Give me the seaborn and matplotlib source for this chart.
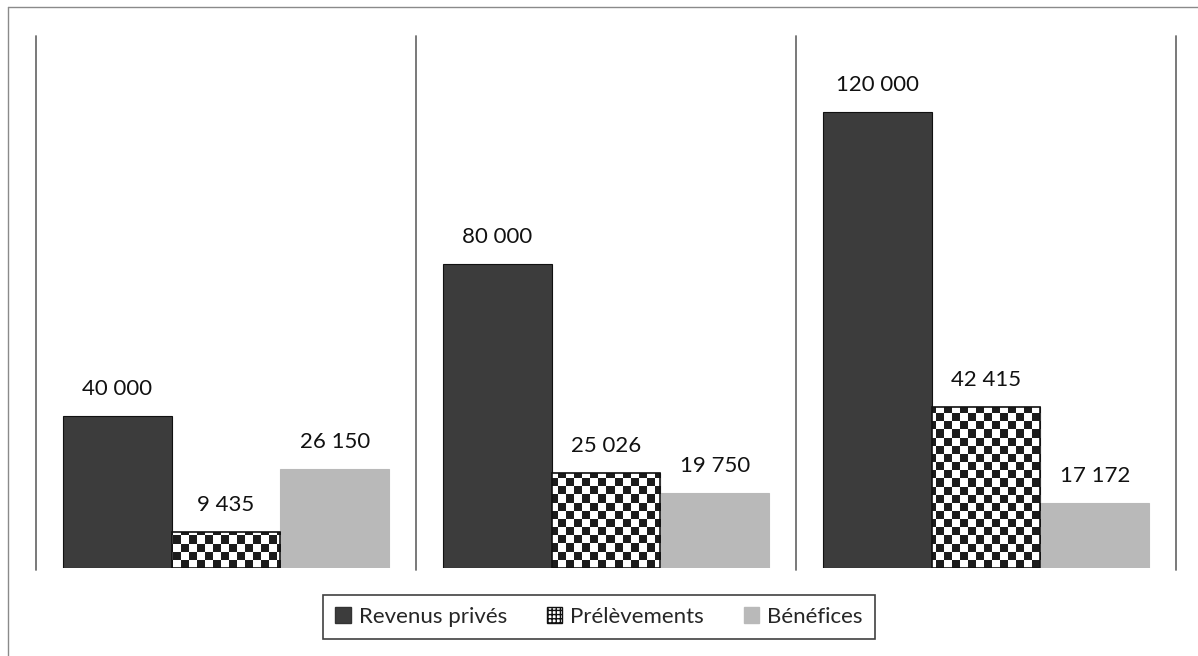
import numpy as np
import pandas as pd
import matplotlib
matplotlib.use("Agg")
import matplotlib.pyplot as plt
import matplotlib.patches as mpatches
from matplotlib.lines import Line2D
from matplotlib.colors import ListedColormap
import seaborn as sns

# ---- data ----
groups = ["Groupe 1", "Groupe 2", "Groupe 3"]
series = ["Revenus privés", "Prélèvements", "Bénéfices"]
revenus = [40000, 80000, 120000]
prelevements = [9435, 25026, 42415]
benefices = [26150, 19750, 17172]

df = pd.DataFrame({
    "groupe": groups * 3,
    "serie": [series[0]] * 3 + [series[1]] * 3 + [series[2]] * 3,
    "valeur": revenus + prelevements + benefices,
})

sns.set_theme(style="white")
plt.rcParams["font.family"] = ["Lato", "DejaVu Sans"]

fig = plt.figure(figsize=(11.98, 6.56), dpi=100)
ax = fig.add_axes([36 / 1198, 1 - 568 / 656, 1140 / 1198, 535 / 656])

colors = {"Revenus privés": "#3c3c3c", "Prélèvements": "#ffffff", "Bénéfices": "#b9b9b9"}
sns.barplot(data=df, x="groupe", y="valeur", hue="serie", hue_order=series,
            palette=colors, width=0.86, dodge=True, ax=ax, legend=False,
            edgecolor="#111111", linewidth=0.8, saturation=1)

ax.set_xlim(-0.5, 2.5)
ax.set_ylim(0, 140800)
for s in ax.spines.values():
    s.set_visible(False)
ax.set_xticks([])
ax.set_yticks([])
ax.set_xlabel("")
ax.set_ylabel("")

# light bars have no dark edge
for bar in ax.containers[2]:
    bar.set_edgecolor("#b9b9b9")

# checkerboard texture for the "Prélèvements" bars
nx, ny = int(1140 / 8), int(535 / 8)
yy, xx = np.mgrid[0:ny, 0:nx]
checker = ((xx + yy) % 2).astype(float)
cmap = ListedColormap(["#1c1c1c", "#ffffff"])
for bar in ax.containers[1]:
    im = ax.imshow(checker, extent=(-0.5, 2.5, 0, 140800), aspect="auto",
                   cmap=cmap, interpolation="nearest", zorder=bar.get_zorder() + 0.1,
                   origin="lower")
    im.set_clip_path(bar)
    edge = mpatches.Rectangle(bar.get_xy(), bar.get_width(), bar.get_height(),
                              fill=False, edgecolor="#111111", linewidth=1.2,
                              zorder=bar.get_zorder() + 0.2)
    ax.add_patch(edge)
ax.set_xlim(-0.5, 2.5)
ax.set_ylim(0, 140800)

# value labels
for cont in ax.containers:
    labels = [f"{b.get_height():,.0f}".replace(",", " ") for b in cont]
    ax.bar_label(cont, labels=labels, padding=12, fontsize=16, color="#111111")

# group separators
for xv in [-0.5, 0.5, 1.5, 2.5]:
    ax.axvline(xv, ymin=-0.004, ymax=0.995, color="#6e6e6e", linewidth=1.3, clip_on=False)

# legend
handles = [
    mpatches.Patch(facecolor="#3c3c3c", edgecolor="#333333", label=series[0]),
    mpatches.Patch(facecolor="white", edgecolor="#111111", hatch="++++", label=series[1]),
    mpatches.Patch(facecolor="#b9b9b9", edgecolor="#b9b9b9", label=series[2]),
]
leg = fig.legend(handles=handles, loc="center", bbox_to_anchor=(599 / 1198, 1 - 617 / 656),
                 ncol=3, frameon=True, fancybox=False, fontsize=16,
                 handlelength=0.7, handleheight=0.7, handletextpad=0.35,
                 columnspacing=1.8, borderpad=0.55, borderaxespad=0,
                 edgecolor="#111111")
leg.get_frame().set_linewidth(1.2)

# outer scan frame (left and top edges)
fig.add_artist(Line2D([8 / 1198, 8 / 1198], [0, 1 - 7 / 656], transform=fig.transFigure,
                      color="#8a8a8a", linewidth=1))
fig.add_artist(Line2D([8 / 1198, 1], [1 - 7 / 656, 1 - 7 / 656], transform=fig.transFigure,
                      color="#8a8a8a", linewidth=1))

fig.savefig("out.png", dpi=100, facecolor="white")
